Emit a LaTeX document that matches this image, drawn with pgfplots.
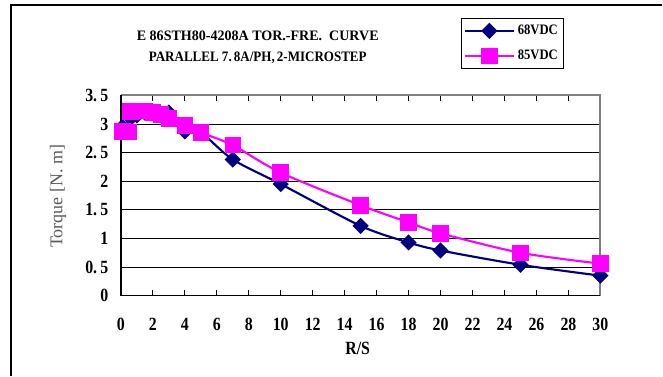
\documentclass[border=0pt]{standalone}
\usepackage{graphicx}
\usepackage{pgfplots}
\pgfplotsset{compat=1.18}
\usepackage{fontspec}
\setmainfont{Liberation Serif}
\newfontfamily\condfont{Liberation Serif}[FakeStretch=0.85]
\definecolor{navy}{HTML}{000080}
\definecolor{mag}{HTML}{FF00FF}
\definecolor{bordergray}{HTML}{808080}
\newcommand{\ttl}[3]{\resizebox{#1}{#2}{\bfseries #3}}
\begin{document}
\begin{tikzpicture}
\path (0pt,0pt) rectangle (497.25pt,282pt);
\draw[black,line width=1pt] (8.25pt,0pt) -- (8.25pt,278.25pt) -- (497.25pt,278.25pt);
\begin{axis}[
  at={(90.75pt,60pt)}, anchor=south west,
  scale only axis, width=360pt, height=150.4pt,
  xmin=0, xmax=30, ymin=0, ymax=3.5,
  xtick={0,2,...,30}, ytick={0,0.5,...,3.5},
  yticklabels={0,0.\,5,1,1.\,5,2,2.\,5,3,3.\,5},
  ymajorgrids, grid style={black,line width=0.6pt},
  axis line style={draw=none},
  tick align=inside,
  xtick style={black,line width=0.8pt},
  major tick length=4.5pt,
  ytick style={draw=none},
  tick label style={font=\condfont\bfseries\fontsize{14}{14}\selectfont},
  /pgf/number format/assume math mode=true,
  xticklabel style={yshift=-13.5pt},
  yticklabel style={xshift=-6pt},
  clip=false,
  legend style={at={(0.7083,1.3865)}, anchor=north west, draw=black, line width=0.8pt,
    inner xsep=2pt, inner ysep=3pt,
    row sep=6pt, cells={anchor=west}},
  legend image code/.code={\draw[mark repeat=2,mark phase=2] plot coordinates {(0cm,0cm) (0.65cm,0cm) (1.3cm,0cm)};},
]
\addplot[navy, line width=1.6pt, smooth, tension=0.5, mark=square*, mark size=3.5pt, mark options={rotate=45, fill=navy, solid}] coordinates {
(0.1,2.95) (0.5,2.93) (0.6,3.1) (1,3.15) (1.5,3.2) (2,3.2) (2.5,3.15) (3,3.2) (4,2.87) (5,2.85) (7,2.38) (10,1.95) (15,1.22) (18,0.93) (20,0.79) (25,0.54) (30,0.35)};
\addlegendentry{\ttl{30pt}{7.2pt}{68VDC}}
\addplot[mag, line width=1.6pt, smooth, tension=0.5, mark=square*, mark size=5.4pt, mark options={fill=mag, solid}] coordinates {
(0.1,2.87) (0.5,2.86) (0.6,3.22) (1,3.23) (1.5,3.23) (2,3.2) (2.5,3.17) (3,3.1) (4,2.97) (5,2.85) (7,2.63) (10,2.15) (15,1.58) (18,1.28) (20,1.09) (25,0.75) (30,0.56)};
\addlegendentry{\ttl{30pt}{7.2pt}{85VDC}}
\draw[bordergray, line width=1.5pt] (axis cs:0,3.5) -- (axis cs:30,3.5) -- (axis cs:30,0);
\draw[black, line width=1.2pt] (axis cs:0,3.5) -- (axis cs:0,0) -- (axis cs:30,0);
\end{axis}
\node[inner sep=0pt] at (193.5pt,255pt) {\ttl{181.5pt}{7.2pt}{E 86STH80-4208A TOR.-FRE.\ \ CURVE}};
\node[inner sep=0pt] at (193.5pt,238.5pt) {\ttl{163.5pt}{7.2pt}{PARALLEL 7.\,8A/PH,\,2-MICROSTEP}};
\node[rotate=90, text=black!65, font=\fontsize{13.5}{13.5}\selectfont] at (43.5pt,134.6pt) {Torque [N. m]};
\node[font=\condfont\bfseries\fontsize{14}{14}\selectfont] at (268.5pt,20.25pt) {R/S};
\end{tikzpicture}
\end{document}
